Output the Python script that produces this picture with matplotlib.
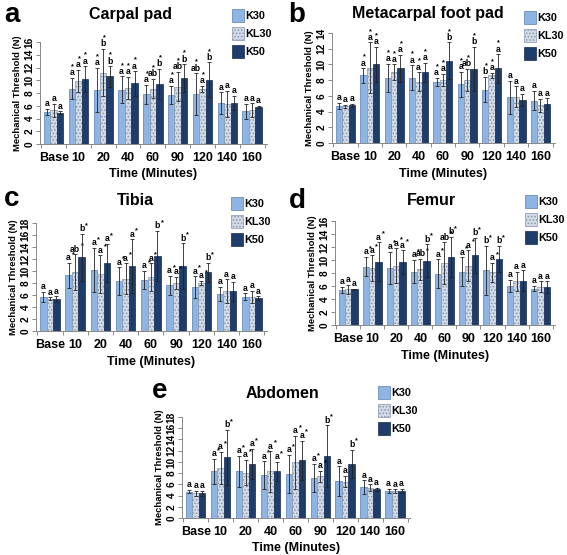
import numpy as np
import matplotlib.pyplot as plt
from matplotlib.patches import Patch

plt.rcParams['font.family'] = ['Liberation Sans', 'DejaVu Sans']
plt.rcParams['font.weight'] = 'bold'
plt.rcParams['hatch.linewidth'] = 0.7

times = ['Base', '10', '20', '40', '60', '90', '120', '140', '160']
groups = ['K30', 'KL30', 'K50']

# a - Carpal pad
carpal_k30 = [5.0, 8.7, 8.5, 8.5, 7.8, 7.7, 7.8, 6.4, 5.1]
carpal_kl30 = [5.3, 9.9, 11.2, 8.8, 8.7, 9.0, 8.6, 6.3, 5.3]
carpal_k50 = [4.9, 10.2, 10.6, 9.5, 9.4, 10.3, 10.1, 6.5, 5.8]
carpal_k30_err = [0.5, 1.7, 3.5, 2.1, 1.5, 1.4, 3.3, 1.7, 1.2]
carpal_kl30_err = [1.0, 1.7, 3.7, 1.7, 1.5, 2.3, 0.5, 2.0, 1.1]
carpal_k50_err = [0.2, 2.0, 1.6, 1.9, 2.4, 2.2, 2.7, 1.1, 0.2]
carpal_k30_let = ['a', 'a*', 'a*', 'a*', 'a*', 'a*', 'ab*', 'a', 'a']
carpal_kl30_let = ['a', 'a*', 'b*', 'a*', 'ab*', 'ab*', 'a*', 'a', 'a']
carpal_k50_let = ['a', 'a*', 'b*', 'a*', 'b*', 'b*', 'b*', 'a', 'a']

# b - Metacarpal foot pad
meta_k30 = [4.7, 8.6, 8.3, 8.3, 7.8, 7.5, 6.8, 5.8, 5.4]
meta_kl30 = [4.7, 9.6, 9.0, 7.8, 8.0, 8.0, 8.6, 5.9, 4.8]
meta_k50 = [4.8, 10.0, 9.5, 9.0, 10.5, 9.4, 9.5, 5.5, 5.0]
meta_k30_err = [0.4, 0.9, 1.8, 1.6, 0.5, 1.6, 1.6, 2.1, 1.2]
meta_kl30_err = [0.2, 3.2, 1.0, 1.2, 0.8, 1.4, 0.3, 1.3, 0.8]
meta_k50_err = [0.2, 2.2, 1.7, 1.2, 2.3, 2.8, 1.8, 0.8, 0.7]
meta_k30_let = ['a', 'a*', 'a*', 'a*', 'a*', 'a*', 'b*', 'a', 'a']
meta_kl30_let = ['a', 'a*', 'a*', 'a*', 'a*', 'ab*', 'a*', 'a', 'a']
meta_k50_let = ['a', 'a*', 'a*', 'a*', 'b*', 'b*', 'a*', 'a', 'a']

# c - Tibia
tibia_k30 = [5.7, 9.3, 10.2, 8.3, 8.5, 7.6, 7.3, 6.2, 5.7]
tibia_kl30 = [5.4, 9.8, 9.5, 8.7, 9.0, 8.0, 8.0, 6.6, 5.7]
tibia_k50 = [5.3, 12.3, 11.3, 10.8, 12.5, 10.8, 9.8, 6.6, 5.5]
tibia_k30_err = [0.8, 2.1, 3.7, 2.3, 1.5, 1.6, 1.8, 1.2, 0.6]
tibia_kl30_err = [0.2, 3.0, 3.1, 2.6, 2.3, 1.0, 0.4, 2.0, 1.0]
tibia_k50_err = [0.5, 3.9, 3.2, 4.5, 4.2, 3.8, 1.6, 1.6, 0.3]
tibia_k30_let = ['a', 'a*', 'a*', 'a*', 'a*', 'a*', 'a*', 'a', 'a']
tibia_kl30_let = ['a', 'ab*', 'a*', 'a*', 'a*', 'a*', 'a*', 'a', 'a']
tibia_k50_let = ['a', 'b*', 'a*', 'a*', 'b*', 'b*', 'b*', 'a', 'a']

# d - Femur
femur_k30 = [5.4, 9.0, 8.8, 8.2, 7.9, 8.2, 8.4, 6.0, 5.6]
femur_kl30 = [5.5, 8.7, 9.1, 8.6, 9.5, 9.1, 8.1, 6.7, 5.9]
femur_k50 = [5.5, 9.7, 9.7, 9.9, 10.5, 10.7, 10.2, 6.8, 5.8]
femur_k30_err = [0.5, 1.5, 2.5, 1.8, 2.2, 2.2, 3.8, 0.9, 0.4]
femur_kl30_err = [0.7, 2.0, 2.7, 1.6, 3.2, 2.4, 1.5, 1.5, 0.8]
femur_k50_err = [0.1, 3.0, 1.8, 2.5, 3.1, 2.7, 2.0, 1.6, 0.9]
femur_k30_let = ['a', 'a*', 'a*', 'a*', 'a*', 'a*', 'b*', 'a', 'a']
femur_kl30_let = ['a', 'a*', 'a*', 'ab*', 'ab*', 'a*', 'a*', 'a', 'a']
femur_k50_let = ['a', 'a*', 'a*', 'b*', 'b*', 'b*', 'b*', 'a', 'a']

# e - Abdomen
abd_k30 = [4.7, 8.3, 8.3, 7.6, 7.8, 7.1, 6.6, 5.5, 4.8]
abd_kl30 = [4.4, 8.9, 8.1, 8.3, 9.9, 7.4, 6.5, 5.4, 4.8]
abd_k50 = [4.4, 10.8, 9.6, 8.3, 10.3, 11.0, 9.7, 5.1, 4.8]
abd_k30_err = [0.3, 2.2, 2.8, 2.5, 3.4, 2.5, 2.6, 1.2, 0.4]
abd_kl30_err = [0.4, 2.9, 2.3, 3.6, 4.7, 1.0, 1.0, 0.6, 0.3]
abd_k50_err = [0.4, 4.9, 2.7, 1.7, 3.5, 5.5, 2.5, 0.3, 0.4]
abd_k30_let = ['a', 'a*', 'a*', 'a*', 'a*', 'a*', 'a', 'a', 'a']
abd_kl30_let = ['a', 'a*', 'a*', 'a*', 'a*', 'a*', 'a', 'a', 'a']
abd_k50_let = ['a', 'b*', 'a*', 'a*', 'a*', 'b*', 'b*', 'a', 'a']

colors = ['#8db4e2', '#d3dbe6', '#1f3d6b']
hatches = [None, '.....', None]
edges = ['#5a7fae', '#8796ab', '#142a4d']

W, H = 567, 555
fig = plt.figure(figsize=(W / 100, H / 100), dpi=100)


def px_axes(left, right, bottom, top):
    return fig.add_axes([left / W, (H - bottom) / H, (right - left) / W, (bottom - top) / H])


panels = [
    dict(letter='a', title='Carpal pad', box=(40, 267, 144, 42), ymax=16, tx=0.40, ty=20,
         means=[carpal_k30, carpal_kl30, carpal_k50],
         errs=[carpal_k30_err, carpal_kl30_err, carpal_k50_err],
         lets=[carpal_k30_let, carpal_kl30_let, carpal_k50_let],
         above=True, leg=(232, 9), lpos=(4, 2)),
    dict(letter='b', title='Metacarpal foot pad', box=(332, 555, 143, 33), ymax=14, tx=0.43, ty=14,
         means=[meta_k30, meta_kl30, meta_k50],
         errs=[meta_k30_err, meta_kl30_err, meta_k50_err],
         lets=[meta_k30_let, meta_kl30_let, meta_k50_let],
         above=True, leg=(524, 11), lpos=(288, 2)),
    dict(letter='c', title='Tibia', box=(36, 267, 331, 223), ymax=18, tx=0.43, ty=16,
         means=[tibia_k30, tibia_kl30, tibia_k50],
         errs=[tibia_k30_err, tibia_kl30_err, tibia_k50_err],
         lets=[tibia_k30_let, tibia_kl30_let, tibia_k50_let],
         above=False, leg=(231, 197), lpos=(4, 186)),
    dict(letter='d', title='Femur', box=(335, 555, 325, 221), ymax=16, tx=0.44, ty=15,
         means=[femur_k30, femur_kl30, femur_k50],
         errs=[femur_k30_err, femur_kl30_err, femur_k50_err],
         lets=[femur_k30_let, femur_kl30_let, femur_k50_let],
         above=False, leg=(525, 195), lpos=(289, 188)),
    dict(letter='e', title='Abdomen', box=(182, 410, 518, 417), ymax=18, tx=0.44, ty=17,
         means=[abd_k30, abd_kl30, abd_k50],
         errs=[abd_k30_err, abd_kl30_err, abd_k50_err],
         lets=[abd_k30_let, abd_kl30_let, abd_k50_let],
         above=False, leg=(378, 386), lpos=(152, 378)),
]

x = np.arange(len(times))
w = 0.26
for p in panels:
    ax = px_axes(*p['box'])
    for i in range(3):
        xs = x + (i - 1) * w
        ax.bar(xs, p['means'][i], w, color=colors[i], hatch=hatches[i],
               edgecolor=edges[i], linewidth=0.5, zorder=2)
        ax.errorbar(xs, p['means'][i], yerr=p['errs'][i], fmt='none', ecolor='#222222',
                    elinewidth=0.6, capsize=1.5, capthick=0.6, zorder=3)
        for xx, m, e, l in zip(xs, p['means'][i], p['errs'][i], p['lets'][i]):
            star = l.endswith('*')
            l = l.rstrip('*')
            ax.annotate(l, (xx, m + e), xytext=(0, 0.5), textcoords='offset points',
                        ha='center', va='bottom', fontsize=6.2, fontweight='bold')
            if star:
                if p['above']:
                    ax.annotate('*', (xx, m + e), xytext=(0.5, 5.5), textcoords='offset points',
                                ha='center', va='bottom', fontsize=5.2, fontweight='bold')
                else:
                    ax.annotate('*', (xx, m + e), xytext=(2.3 + 1.7 * (len(l) - 1), 3.5),
                                textcoords='offset points',
                                ha='left', va='bottom', fontsize=5.2, fontweight='bold')
    ax.set_xlim(-0.55, 8.6)
    ax.set_ylim(0, p['ymax'])
    ax.set_yticks(np.arange(0, p['ymax'] + 1, 2))
    ax.tick_params(axis='y', labelrotation=90, labelsize=7.3, length=3, width=0.6, pad=1,
                   color='#777777')
    for t in ax.get_yticklabels():
        t.set_va('center')
    ax.set_xticks(x)
    ax.set_xticklabels(times, fontsize=9, fontweight='bold')
    ax.tick_params(axis='x', length=0, pad=6)
    ax.set_xticks(np.arange(-0.5, 9, 1), minor=True)
    ax.tick_params(axis='x', which='minor', length=3, width=0.6, color='#777777')
    for s in ['top', 'right']:
        ax.spines[s].set_visible(False)
    for s in ['left', 'bottom']:
        ax.spines[s].set_color('#888888')
        ax.spines[s].set_linewidth(0.7)
    ax.set_ylabel('Mechanical Threshold (N)', fontsize=6.8, fontweight='bold', labelpad=2)
    ax.set_xlabel('Time (Minutes)', fontsize=9, fontweight='bold', labelpad=3)
    ax.annotate(p['title'], (p['tx'], 1), xycoords='axes fraction',
                xytext=(0, p['ty']), textcoords='offset points', ha='center', va='center',
                fontsize=11.5, fontweight='bold')
    handles = [Patch(facecolor=colors[i], hatch=hatches[i], edgecolor=edges[i], linewidth=0.5)
               for i in range(3)]
    fig.legend(handles, groups, loc='upper left',
               bbox_to_anchor=(p['leg'][0] / W, 1 - p['leg'][1] / H),
               frameon=False, prop={'weight': 'bold', 'size': 7.8},
               handlelength=1.1, handleheight=1.5, handletextpad=0.15,
               labelspacing=0.45, borderpad=0, borderaxespad=0)
    fig.text(p['lpos'][0] / W, 1 - p['lpos'][1] / H, p['letter'], ha='left', va='top',
             fontsize=20, fontweight='bold')

fig.savefig('out.png', dpi=100)
